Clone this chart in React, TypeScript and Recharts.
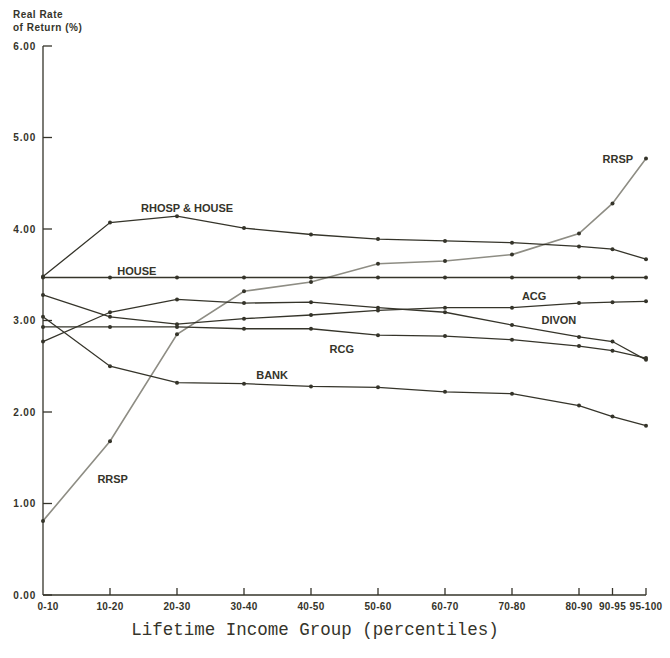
import React from 'react';
import { LineChart, Line, XAxis, YAxis, ReferenceDot } from 'recharts';

// income groups and their upper percentile bound (used as the x value)
const groups = ['0-10', '10-20', '20-30', '30-40', '40-50', '50-60', '60-70', '70-80', '80-90', '90-95', '95-100'];
const upperPct = [10, 20, 30, 40, 50, 60, 70, 80, 90, 95, 100];

// real rate of return (%)
const rhospHouse = [3.48, 4.07, 4.14, 4.01, 3.94, 3.89, 3.87, 3.85, 3.81, 3.78, 3.67];
const house = [3.47, 3.47, 3.47, 3.47, 3.47, 3.47, 3.47, 3.47, 3.47, 3.47, 3.47];
const rrsp = [0.81, 1.68, 2.85, 3.32, 3.42, 3.62, 3.65, 3.72, 3.95, 4.28, 4.77];
const acg = [3.28, 3.04, 2.96, 3.02, 3.06, 3.11, 3.14, 3.14, 3.19, 3.2, 3.21];
const divon = [2.77, 3.09, 3.23, 3.19, 3.2, 3.14, 3.09, 2.95, 2.82, 2.77, 2.57];
const rcg = [2.93, 2.93, 2.93, 2.91, 2.91, 2.84, 2.83, 2.79, 2.72, 2.67, 2.59];
const bank = [3.04, 2.5, 2.32, 2.31, 2.28, 2.27, 2.22, 2.2, 2.07, 1.95, 1.85];

const yTicks = [0, 1, 2, 3, 4, 5, 6];

// series name labels, in data units (percentile, rate)
const seriesLabels = [
  { text: 'RHOSP & HOUSE', pct: 31.5, rate: 4.23 },
  { text: 'HOUSE', pct: 24.0, rate: 3.54 },
  { text: 'ACG', pct: 83.3, rate: 3.27 },
  { text: 'DIVON', pct: 87.0, rate: 3.01 },
  { text: 'RCG', pct: 54.6, rate: 2.69 },
  { text: 'BANK', pct: 44.2, rate: 2.4 },
  { text: 'RRSP', pct: 20.4, rate: 1.27 },
  { text: 'RRSP', pct: 95.8, rate: 4.77 },
];

const data = upperPct.map((pct, i) => ({
  pct,
  rhospHouse: rhospHouse[i],
  house: house[i],
  rrsp: rrsp[i],
  acg: acg[i],
  divon: divon[i],
  rcg: rcg[i],
  bank: bank[i],
}));

const INK = '#35342a';
const GREY = '#8e8d84';
const SANS = "'Liberation Sans', Arial, sans-serif";

const YTick = ({ x, y, payload }: any) => (
  <g>
    <line x1={x} x2={x + 9} y1={y} y2={y} stroke={INK} strokeWidth={1.3} />
    <text x={x - 7} y={y} textAnchor="end" dominantBaseline="central" fill={INK}
      fontFamily={SANS} fontSize={10} fontWeight="bold" letterSpacing={0.8}>
      {Number(payload.value).toFixed(2)}
    </text>
  </g>
);

const XTick = ({ x, y, payload }: any) => {
  const idx = upperPct.indexOf(payload.value);
  return (
    <g>
      {idx > 0 && <line x1={x} x2={x} y1={y - 7} y2={y} stroke={INK} strokeWidth={1.3} />}
      <text x={x + (idx === 0 ? 5 : 0)} y={y + 11} textAnchor="middle" dominantBaseline="central" fill={INK}
        fontFamily={SANS} fontSize={10} fontWeight="bold" letterSpacing={0.3}>
        {groups[idx]}
      </text>
    </g>
  );
};

const lineProps = (color: string) => ({
  type: 'linear' as const,
  stroke: color,
  strokeWidth: 1.3,
  dot: { r: 2, fill: INK, stroke: 'none' },
  activeDot: false as const,
  isAnimationActive: false,
});

export default function App() {
  return (
    <div style={{ position: 'relative', width: 670, height: 658, background: '#fff' }}>
      <style>{'body{margin:0}'}</style>
      <div style={{ position: 'absolute', left: 13, top: 8, fontFamily: SANS, fontSize: 10, fontWeight: 'bold',
        color: INK, lineHeight: '13px', letterSpacing: 0.5 }}>
        Real Rate<br />of Return (%)
      </div>
      <LineChart width={670} height={658} data={data} margin={{ top: 46, right: 24, bottom: 0, left: 0 }}>
        <XAxis
          type="number"
          dataKey="pct"
          domain={[10, 100]}
          ticks={upperPct}
          height={63}
          tickSize={0}
          tickMargin={0}
          tickLine={false}
          axisLine={{ stroke: INK, strokeWidth: 1.3 }}
          tick={<XTick />}
          interval={0}
        />
        <YAxis
          type="number"
          domain={[0, 6]}
          ticks={yTicks}
          width={43}
          tickSize={0}
          tickMargin={0}
          tickLine={false}
          axisLine={{ stroke: INK, strokeWidth: 1.3 }}
          tick={<YTick />}
          interval={0}
        />
        <Line dataKey="rrsp" {...lineProps(GREY)} strokeWidth={1.6} />
        <Line dataKey="rhospHouse" {...lineProps(INK)} />
        <Line dataKey="house" {...lineProps(INK)} />
        <Line dataKey="acg" {...lineProps(INK)} />
        <Line dataKey="divon" {...lineProps(INK)} />
        <Line dataKey="rcg" {...lineProps(INK)} />
        <Line dataKey="bank" {...lineProps(INK)} />
        {seriesLabels.map((l, i) => (
          <ReferenceDot
            key={i}
            x={l.pct}
            y={l.rate}
            r={0}
            fill="none"
            stroke="none"
            ifOverflow="visible"
            label={{
              content: ({ viewBox }: any) => (
                <text x={viewBox.x + viewBox.width / 2} y={viewBox.y + viewBox.height / 2}
                  textAnchor="middle" dominantBaseline="central" fill={INK}
                  fontFamily={SANS} fontSize={11} fontWeight="bold">
                  {l.text}
                </text>
              ),
            }}
          />
        ))}
      </LineChart>
      <div style={{ position: 'absolute', left: 0, top: 620, width: 630, textAlign: 'center',
        fontFamily: "'Liberation Mono', 'DejaVu Sans Mono', monospace", fontSize: 17.5, color: INK }}>
        Lifetime Income Group (percentiles)
      </div>
    </div>
  );
}
